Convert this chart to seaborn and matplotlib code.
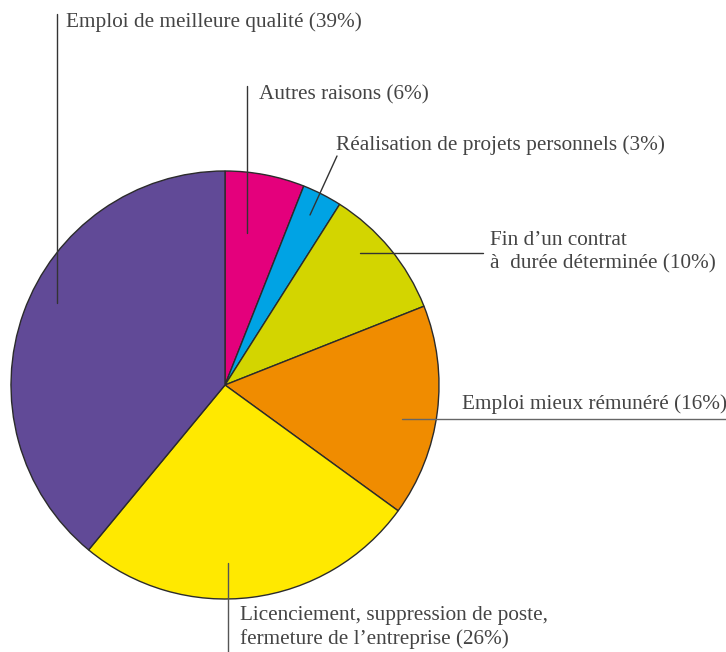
import matplotlib
matplotlib.use("Agg")
import matplotlib.pyplot as plt
import seaborn as sns

sns.set_theme(style="white")
plt.rcParams['font.family'] = ['Liberation Serif', 'DejaVu Serif']

# raisons du changement d'emploi, sens horaire depuis le haut
labels = [
    "Autres raisons (6%)",
    "Réalisation de projets personnels (3%)",
    "Fin d’un contrat\nà  durée déterminée (10%)",
    "Emploi mieux rémunéré (16%)",
    "Licenciement, suppression de poste,\nfermeture de l’entreprise (26%)",
    "Emploi de meilleure qualité (39%)",
]
values = [6, 3, 10, 16, 26, 39]
colors = ["#E4007C", "#00A3E4", "#D3D500", "#F08C00", "#FFE900", "#614A97"]

W, H = 726, 652
fig = plt.figure(figsize=(W / 100, H / 100), dpi=100)
ax = fig.add_axes([0, 0, 1, 1])
ax.set_xlim(0, W)
ax.set_ylim(0, H)
ax.set_aspect("equal")
ax.axis("off")


def py(y):
    # pixel row -> data y
    return H - y


cx, cy, r = 225, py(385), 214
ax.pie(values, colors=colors, startangle=90, counterclock=False,
       center=(cx, cy), radius=r,
       wedgeprops=dict(edgecolor="#2b2b2b", linewidth=1.0))
ax.set_xlim(0, W)
ax.set_ylim(0, H)

lc = "#333333"
tc = "#444444"
fs = 15.3
lw = 1.0

# leader lines (pixel coordinates)
ax.plot([57, 57], [py(14), py(303)], color=lc, lw=lw)
ax.plot([247, 247], [py(86), py(233)], color=lc, lw=lw)
ax.plot([337, 310], [py(156), py(215)], color=lc, lw=lw)
ax.plot([360, 483], [py(253), py(253)], color=lc, lw=lw)
ax.plot([402, 726], [py(419), py(419)], color="#666666", lw=lw)
ax.plot([228, 228], [py(563), py(652)], color="#555555", lw=lw)

txt = dict(color=tc, fontsize=fs, ha="left")
ax.text(66, py(22), labels[5], va="center", **txt)
ax.text(259, py(95), labels[0], va="center", **txt)
ax.text(336, py(145), labels[1], va="center", **txt)
ax.text(490, py(252), labels[2], va="center", linespacing=1.3, **txt)
ax.text(462, py(404), labels[3], va="center", **txt)
ax.text(240, py(649), labels[4], va="bottom", linespacing=1.3, **txt)

fig.savefig("out.png", dpi=100)
